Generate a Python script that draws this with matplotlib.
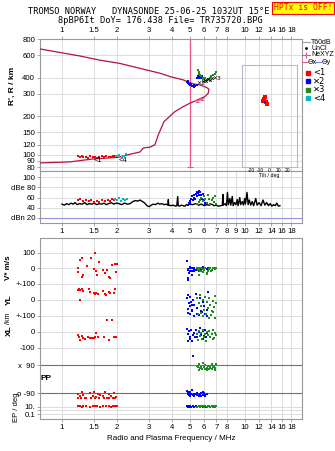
import numpy as np
import matplotlib
matplotlib.use("Agg")
import matplotlib.pyplot as plt
from matplotlib.lines import Line2D

plt.rcParams['font.family'] = ['Liberation Sans', 'DejaVu Sans']

# ---------------- data ----------------
freq_ticks_top = [1, 1.5, 2, 3, 4, 5, 6, 7, 8, 10, 12, 14, 16, 18]
freq_ticks_mid = [1, 1.5, 2, 3, 4, 5, 6, 7, 8, 9, 10, 12, 14, 16, 18]
height_ticks = [80, 90, 100, 120, 150, 200, 300, 400, 600, 800]

prof_f = [0.758, 1.106, 1.478, 2.025, 2.306, 2.673, 2.786, 3.03, 3.228, 3.37, 3.62,
          4.155, 4.613, 5.019, 6.063, 6.32, 6.376, 6.194, 5.69, 5.232, 4.613, 3.90,
          3.44, 2.077, 1.594, 1.254, 0.758]
prof_h = [86.7, 88.3, 93.1, 95.8, 100.5, 105.5, 113.3, 115, 120.2, 144, 182,
          218, 238, 253, 285, 303, 325, 335, 351, 358, 384, 408,
          433, 516, 549, 590, 669]

ne_f = [5.46, 5.82]
ne_h = [264, 272]

o1_f = [1.22, 1.25, 1.28, 1.31, 1.35, 1.39, 1.43, 1.47, 1.52, 1.56, 1.60, 1.65, 1.70, 1.75, 1.80, 1.85, 1.90, 1.95]
o1_h = [98, 97, 99, 96, 97, 95, 98, 96, 97, 95, 96, 98, 97, 99, 96, 97, 98, 99]
o4_f = [1.97, 2.01, 2.06, 2.12, 2.18, 2.25]
o4_h = [99, 98, 100, 97, 99, 101]
x2_f = [4.85, 4.88, 4.92, 4.96, 5.0, 5.05, 5.1, 5.15, 5.2, 5.25, 5.3, 5.38, 5.45, 5.5, 5.55, 5.62, 5.7, 5.78, 5.85, 5.92]
x2_h = [372, 380, 365, 360, 352, 348, 355, 342, 346, 340, 350, 345, 352, 400, 410, 395, 405, 398, 412, 392]
x3_f = [5.55, 5.6, 5.65, 5.72, 5.8, 5.88, 5.95, 6.02, 6.1, 6.2, 6.3, 6.42, 6.55, 6.7, 6.85, 6.95]
x3_h = [455, 445, 430, 420, 410, 400, 392, 388, 395, 385, 392, 400, 410, 418, 428, 440]
uncl_f = [5.95, 6.05, 6.15, 6.3, 6.45, 6.6]
uncl_h = [375, 382, 378, 390, 385, 395]

tilt_x = [-7, -5, -4, -3, -6]
tilt_y = [9, 11, 8, 7, 10]
tilt_bx = [-5]
tilt_by = [8]

amp_f = [1.00, 1.03, 1.06, 1.09, 1.12, 1.15, 1.18, 1.21, 1.25, 1.29, 1.33, 1.37, 1.41, 1.46, 1.50,
         1.55, 1.60, 1.65, 1.70, 1.75, 1.80, 1.86, 1.92, 1.98, 2.05, 2.12, 2.20, 2.28, 2.36, 2.44,
         2.52, 2.60, 2.68, 2.76, 2.84, 2.92, 3.00, 3.08, 3.16, 3.25, 3.34, 3.43, 3.52, 3.62, 3.72,
         3.80, 3.82, 3.84, 3.95, 4.05, 4.20, 4.25, 4.30, 4.33, 4.40, 4.50, 4.60, 4.70, 4.80, 4.90,
         5.00, 5.20, 5.40, 5.60, 5.80, 6.00, 6.20, 6.40, 6.60, 6.80, 7.00, 7.20, 7.40, 7.55, 7.60,
         7.65, 7.80, 7.95, 8.05, 8.15, 8.30, 8.40, 8.55, 8.65, 8.80, 8.95, 9.10, 9.20, 9.40, 9.50,
         9.70, 9.85, 10.0, 10.1, 10.3, 10.45, 10.6, 10.8, 11.0, 11.2, 11.5, 11.7, 12.0, 12.3, 12.6,
         12.9, 13.2, 13.5, 13.8, 14.1, 14.4, 14.7, 15.0, 15.3, 15.6]
amp_db = [47, 45, 48, 46, 49, 47, 50, 46, 48, 47, 50, 46, 48, 47, 49,
          46, 48, 47, 49, 46, 48, 50, 47, 49, 48, 46, 49, 47, 48, 52,
          54, 53, 55, 52, 49, 44, 42, 45, 47, 46, 49, 47, 48, 46, 47,
          45, 56, 45, 44, 45, 43, 44, 62, 44, 43, 45, 44, 43, 46, 45,
          47, 46, 48, 45, 47, 44, 46, 45, 47, 44, 45, 43, 44, 45, 66,
          45, 48, 44, 70, 46, 58, 45, 62, 44, 50, 46, 56, 44, 60, 46,
          52, 45, 58, 47, 70, 46, 55, 45, 52, 44, 58, 45, 50, 44, 55,
          45, 50, 44, 48, 43, 46, 44, 49, 43, 44]

db_o1_f = [1.22, 1.26, 1.31, 1.36, 1.40, 1.44, 1.49, 1.55, 1.60, 1.66, 1.72, 1.78, 1.83, 1.88, 1.93]
db_o1 = [55, 57, 54, 56, 53, 55, 52, 54, 51, 55, 53, 56, 54, 57, 55]
db_o4_f = [1.96, 2.0, 2.05, 2.10, 2.16, 2.22, 2.28]
db_o4 = [58, 56, 60, 54, 57, 55, 58]
db_x2_f = [4.90, 4.95, 5.00, 5.05, 5.10, 5.15, 5.2, 5.25, 5.3, 5.35, 5.4, 5.45, 5.5, 5.55, 5.6, 5.65,
           5.7, 5.75, 5.8, 5.85, 5.9, 6.0, 6.05, 6.1]
db_x2 = [46, 50, 54, 49, 58, 62, 55, 60, 64, 57, 66, 70, 62, 68, 72, 65, 70, 60, 64, 58, 66, 55, 50, 47]
db_x3_f = [5.5, 5.6, 5.7, 5.8, 5.9, 6.0, 6.1, 6.2, 6.3, 6.4, 6.5, 6.6, 6.7, 6.8, 6.9, 7.0]
db_x3 = [48, 52, 56, 60, 54, 62, 58, 50, 64, 57, 48, 55, 60, 52, 62, 47]

# lower panel: velocities (m/s), YL / XL (km), polarization (deg), EP (deg)
vs_o1_f = [1.22, 1.23, 1.25, 1.28, 1.29, 1.31, 1.375, 1.44, 1.49, 1.515, 1.53, 1.56, 1.60, 1.68, 1.72,
           1.76, 1.81, 1.83, 1.87, 1.95, 1.97, 2.0]
vs_o1 = [0, -21, 53, 64, -58, -43, 17, 64, -6, 100, -15, -43, 42, -11, -32, -11, -54, -64, 21, 28, -21, 28]
yl_o1_f = [1.22, 1.24, 1.26, 1.28, 1.30, 1.25, 1.40, 1.43, 1.50, 1.52, 1.54, 1.58, 1.68, 1.71, 1.74,
           1.80, 1.84, 1.92, 1.96]
yl_o1 = [62, 69, 62, 69, 58, 0, 69, 52, 42, 38, 42, 38, 58, 38, 31, 52, 42, 42, 67]
xl_o1_f = [1.22, 1.24, 1.26, 1.28, 1.31, 1.34, 1.38, 1.43, 1.46, 1.49, 1.52, 1.53, 1.58, 1.70, 1.77,
           1.82, 1.87, 1.92, 1.97]
xl_o1 = [-19, -34, -51, -24, -41, -46, -34, -41, -41, -41, -30, -9, -30, -30, 77, -51, 77, -30, -30]
pp_o1_f = [1.22, 1.25, 1.28, 1.31, 1.35, 1.42, 1.47, 1.50, 1.53, 1.57, 1.62, 1.68, 1.72, 1.77, 1.82,
           1.86, 1.92, 1.97, 1.23, 1.27, 1.33, 1.45, 1.52, 1.60, 1.70, 1.80, 1.90, 1.95]
pp_o1 = [-95, -110, -85, -100, -120, -90, -105, -80, -115, -95, -100, -110, -85, -120, -95, -105, -90,
         -115, -122, -122, -122, -122, -122, -122, -122, -122, -122, -122]
ep_o1_f = [1.22, 1.25, 1.28, 1.31, 1.36, 1.42, 1.47, 1.52, 1.56, 1.62, 1.68, 1.74, 1.80, 1.85, 1.90, 1.95, 2.0]
ep_o1 = [12, 15, 11, 14, 12, 11, 13, 15, 12, 11, 14, 12, 13, 11, 12, 14, 12]

vs_x2_f = [4.85, 4.88, 4.92, 4.95, 5.0, 5.05, 5.1, 5.15, 5.2, 5.25, 5.3, 5.4, 5.5, 5.6, 5.7, 5.8, 5.9,
           6.0, 6.1, 6.2, 6.3, 4.9, 5.0, 5.15, 5.3, 4.87]
vs_x2 = [48, -10, -5, -30, 0, 10, -15, 5, -20, -5, 0, -10, 5, -15, 0, -5, 10, -10, 0, -5, 0, -60, -20,
         -40, -15, -75]
yl_x2_f = [4.86, 4.9, 4.95, 5.0, 5.05, 5.1, 5.15, 5.2, 5.3, 5.4, 5.5, 5.6, 5.7, 5.8, 5.9, 6.0, 6.1,
           6.2, 6.3, 4.88, 5.0, 5.12, 5.25, 5.45, 5.65, 5.85, 6.05, 6.25, 4.92, 5.18]
yl_x2 = [10, 30, -20, 20, -40, -10, -60, 0, -30, 40, -50, -20, 10, -70, -10, -40, 20, -60, 50,
         -80, -90, -70, -100, -85, -95, -75, -90, -100, -55, -30]
xl_x2_f = [4.86, 4.9, 4.95, 5.0, 5.05, 5.1, 5.2, 5.3, 5.4, 5.5, 5.6, 5.7, 5.8, 5.9, 6.0, 6.1, 6.2,
           4.88, 5.02, 5.15, 5.35, 5.55, 5.75, 5.95, 6.15]
xl_x2 = [20, -10, 5, -30, -45, 10, -20, -5, 15, -35, 0, 25, -15, 5, -25, 10, -5,
         -55, -40, -60, -30, -50, -20, -45, -35]
pp_x2_f = [4.86, 4.9, 4.95, 5.0, 5.05, 5.1, 5.2, 5.3, 5.4, 5.5, 5.6, 5.7, 5.8, 5.9, 6.0, 6.1, 6.2,
           4.88, 5.0, 5.15, 5.3, 5.45, 5.6, 5.75, 5.9, 6.05, 5.22]
pp_x2 = [-75, -95, -100, -90, -105, -95, -100, -110, -95, -100, -105, -95, -110, -100, -90, -105, -95,
         -80, -85, -70, -95, -88, -100, -90, -85, -100, 150]
ep_x2_f = [4.86, 4.9, 4.95, 5.0, 5.05, 5.1, 5.2, 5.3, 5.4, 5.5, 5.6, 5.7, 5.8, 5.9, 6.0, 6.1]
ep_x2 = [14, 11, 13, 10, 12, 11, 14, 10, 12, 11, 13, 10, 12, 11, 14, 10]

vs_x3_f = [5.5, 5.55, 5.6, 5.65, 5.7, 5.75, 5.8, 5.9, 6.0, 6.1, 6.2, 6.3, 6.4, 6.5, 6.6, 6.7, 6.8,
           6.9, 6.95, 5.62, 5.95, 6.25, 6.55, 6.85]
vs_x3 = [0, -10, 5, -5, -15, 0, -20, -5, -10, 0, -30, -15, -5, 5, -10, 0, 5, -5, 0, -40, -25, -35, -20, 0]
yl_x3_f = [5.5, 5.6, 5.7, 5.8, 5.9, 6.0, 6.1, 6.2, 6.3, 6.4, 6.5, 6.6, 6.7, 6.8, 6.9, 6.95,
           5.55, 5.75, 5.95, 6.15, 6.35, 6.55, 6.75, 6.9]
yl_x3 = [10, -20, 30, -40, 0, -60, 20, -10, -50, 15, -30, -70, -5, -45, 25, -20,
         -90, -80, -100, -85, -110, -95, -75, -115]
xl_x3_f = [5.5, 5.6, 5.7, 5.8, 5.9, 6.0, 6.1, 6.2, 6.3, 6.4, 6.5, 6.6, 6.7, 6.8, 6.9, 6.95,
           5.55, 5.85, 6.15, 6.45, 6.75]
xl_x3 = [-10, 5, -25, -5, 10, -35, -15, 0, -20, 5, -30, -10, 15, -40, -5, -20,
         -50, -45, -55, -30, -45]
pp_x3_f = [5.5, 5.55, 5.6, 5.7, 5.8, 5.9, 6.0, 6.1, 6.2, 6.3, 6.4, 6.5, 6.6, 6.7, 6.8, 6.9, 6.95,
           5.65, 5.85, 6.05, 6.25, 6.45, 6.65, 6.85]
pp_x3 = [85, 75, 95, 70, 80, 100, 75, 90, 70, 85, 65, 80, 95, 75, 85, 70, 95,
         60, 65, 62, 60, 68, 62, 60]
ep_x3_f = [5.5, 5.6, 5.7, 5.8, 5.9, 6.0, 6.1, 6.2, 6.3, 6.4, 6.5, 6.6, 6.7, 6.8, 6.9, 7.0]
ep_x3 = [11, 13, 10, 14, 12, 11, 13, 10, 12, 14, 11, 13, 10, 12, 11, 13]

# ---------------- styles ----------------
W, H = 335, 451
RED, BLUE, GREEN, CYAN = '#ff0000', '#0000ff', '#1e8c1e', '#00bcbc'
PROF = '#b4143c'
PINK = '#e8558c'
GRID = '#dcdcdc'
SPINE = '#999999'
FS = 5.6


def rect(x0, y0, x1, y1):
    return [x0 / W, 1 - y1 / H, (x1 - x0) / W, (y1 - y0) / H]


def fx(x):
    return x / W


def fy(y):
    return 1 - y / H


fig = plt.figure(figsize=(W / 100, H / 100), dpi=100)
fig.patch.set_facecolor('white')

XLIM = (0.758, 20.6)


def style_freq_axis(ax):
    ax.set_xscale('log')
    ax.set_xlim(*XLIM)
    ax.xaxis.set_minor_locator(matplotlib.ticker.NullLocator())
    for s in ax.spines.values():
        s.set_color(SPINE)
        s.set_linewidth(0.8)
    ax.tick_params(axis='both', labelsize=FS, length=2, width=0.6, color=SPINE, pad=1.5)


def fmt(v):
    return ('%g' % v)

# ---------- top panel ----------
ax1 = fig.add_axes(rect(40, 39, 302, 171))
style_freq_axis(ax1)
ax1.set_yscale('log')
ax1.set_ylim(75, 800)
ax1.yaxis.set_minor_locator(matplotlib.ticker.NullLocator())
ax1.set_yticks(height_ticks)
ax1.set_yticklabels([str(t) for t in height_ticks])
ax1.set_xticks(freq_ticks_top)
ax1.set_xticklabels([fmt(t) for t in freq_ticks_top])
ax1.xaxis.set_ticks_position('top')
ax1.xaxis.set_label_position('top')
for t in freq_ticks_top:
    ax1.axvline(t, color=GRID, lw=0.7, zorder=0)
for t in height_ticks:
    ax1.axhline(t, color=GRID, lw=0.7, zorder=0)

ax1.plot(prof_f, prof_h, color=PROF, lw=0.9, zorder=3)
ax1.errorbar([5.0], [283], yerr=[[203], [517]], color=PINK, lw=0.9, capsize=2, capthick=0.8, zorder=2)
ax1.errorbar(ne_f, ne_h, yerr=6, color=PINK, lw=0.7, capsize=1.5, capthick=0.7, fmt='none', zorder=4)
ax1.plot(ne_f, ne_h, color=PINK, lw=0.7, zorder=4)
ax1.scatter(o1_f, o1_h, s=3, marker='s', color=RED, lw=0, zorder=5)
ax1.scatter(o4_f, o4_h, s=3, marker='s', color=CYAN, lw=0, zorder=5)
ax1.scatter(x2_f, x2_h, s=3, marker='s', color=BLUE, lw=0, zorder=5)
ax1.scatter(x3_f, x3_h, s=3, marker='s', color=GREEN, lw=0, zorder=5)
ax1.scatter(uncl_f, uncl_h, s=3, marker='x', color='black', lw=0.6, zorder=6)
ax1.text(1.58, 91, '<1', fontsize=5.5, ha='center', va='center', zorder=7)
ax1.text(2.16, 91, '<4', fontsize=5.5, ha='center', va='center', zorder=7)
ax1.text(5.75, 362, '✕2', fontsize=4.3, ha='center', va='center', zorder=7,
         family=['DejaVu Sans'])
ax1.text(7.0, 392, '✕3', fontsize=4.3, ha='center', va='center', zorder=7,
         family=['DejaVu Sans'])

fig.text(fx(12), fy(86), "R', R / km", rotation=90, fontsize=6, ha='center', va='center', weight='bold')

# ---------- dB panel ----------
ax2 = fig.add_axes(rect(40, 171, 302, 223))
style_freq_axis(ax2)
ax2.set_ylim(10, 112)
ax2.set_yticks([20, 40, 60, 80, 100])
ax2.set_yticklabels(['dBn 20', '40', '60', 'dBe 80', '100'])
ax2.set_xticks(freq_ticks_mid)
ax2.set_xticklabels([fmt(t) for t in freq_ticks_mid])
for t in freq_ticks_mid:
    ax2.axvline(t, color=GRID, lw=0.7, zorder=0)
for t in [40, 60, 80, 100]:
    ax2.axhline(t, color=GRID, lw=0.7, zorder=0)
ax2.axhline(20, color='#9090e0', lw=0.8, zorder=0)
ax2.plot(amp_f, amp_db, color='black', lw=1.0, zorder=3)
ax2.scatter(db_o1_f, db_o1, s=3, marker='s', color=RED, lw=0, zorder=4)
ax2.scatter(db_o4_f, db_o4, s=3, marker='s', color=CYAN, lw=0, zorder=4)
ax2.scatter(db_x2_f, db_x2, s=4, marker='s', color=BLUE, lw=0, zorder=4)
ax2.scatter(db_x3_f, db_x3, s=4, marker='s', color=GREEN, lw=0, zorder=4)

# inset tilt (drawn above the dB panel so its labels stay visible)
axi = fig.add_axes(rect(242, 65, 297, 167))
axi.set_zorder(10)
axi.patch.set_alpha(0)
axi.set_xlim(-30, 30)
axi.set_ylim(-30, 30)
axi.set_xticks([-20, -10, 0, 10, 20])
axi.set_xticklabels(['-20', '-10', '0', '10', '20'])
axi.set_yticks([])
axi.tick_params(axis='x', labelsize=3.6, length=0, pad=0.8)
for s in axi.spines.values():
    s.set_color('#b8b8c8')
    s.set_linewidth(0.8)
axi.set_xlabel('Tilt / deg', fontsize=3.8, labelpad=0)
axi.scatter(tilt_x, tilt_y, s=5, marker='s', color=RED, lw=0, zorder=5)
axi.scatter(tilt_bx, tilt_by, s=4, marker='s', color=BLUE, lw=0, zorder=6)

# ---------- lower panel ----------
ax3 = fig.add_axes(rect(40, 238, 302, 419))
style_freq_axis(ax3)
ax3.set_ylim(0, 181)


def vs_y(v):
    return 150.7 + np.asarray(v) * 0.156


def yl_y(v):
    return 119 + np.asarray(v) * 0.16


def xl_y(v):
    return 87 + np.asarray(v) * 0.156


def pp_y(v):
    return 39.85 + np.asarray(v) * 0.157


def ep_y(v):
    return 8.6 + 3.65 * np.log10(np.asarray(v, dtype=float))


ytick_pos = [vs_y(100), vs_y(0), vs_y(-100), yl_y(0), yl_y(-100), xl_y(0), xl_y(-100),
             pp_y(90), pp_y(-90), ep_y(10), ep_y(1), ep_y(0.1)]
ytick_lab = ['100', '0', '+-100', '0', '+-100', '0', '-100', 'x  90', 'o -90', '10.', '', '0.1']
ax3.set_yticks([float(p) for p in ytick_pos])
ax3.set_yticklabels(ytick_lab)
ax3.set_xticks(freq_ticks_top)
ax3.set_xticklabels([fmt(t) for t in freq_ticks_top])
for t in freq_ticks_top:
    ax3.axvline(t, color=GRID, lw=0.7, zorder=0)
for p in ytick_pos:
    ax3.axhline(float(p), color=GRID, lw=0.7, zorder=0)
ax3.axhline(float(pp_y(90)), color='#707070', lw=0.8, zorder=1)
ax3.axhline(float(pp_y(-90)), color='#707070', lw=0.8, zorder=1)
ax3.set_xlabel('Radio and Plasma Frequency / MHz', fontsize=5.8, labelpad=3)

S = 3.5
for f_, v_, fn, c in [
    (vs_o1_f, vs_o1, vs_y, RED), (yl_o1_f, yl_o1, yl_y, RED), (xl_o1_f, xl_o1, xl_y, RED),
    (pp_o1_f, pp_o1, pp_y, RED), (ep_o1_f, ep_o1, ep_y, RED),
    (vs_x2_f, vs_x2, vs_y, BLUE), (yl_x2_f, yl_x2, yl_y, BLUE), (xl_x2_f, xl_x2, xl_y, BLUE),
    (pp_x2_f, pp_x2, pp_y, BLUE), (ep_x2_f, ep_x2, ep_y, BLUE),
    (vs_x3_f, vs_x3, vs_y, GREEN), (yl_x3_f, yl_x3, yl_y, GREEN), (xl_x3_f, xl_x3, xl_y, GREEN),
    (pp_x3_f, pp_x3, pp_y, GREEN), (ep_x3_f, ep_x3, ep_y, GREEN)]:
    ax3.scatter(f_, fn(v_), s=S, marker='s', color=c, lw=0, zorder=4)

fig.text(fx(9), fy(268), 'V* m/s', rotation=90, fontsize=5.8, ha='center', va='center', weight='bold')
fig.text(fx(9), fy(300), 'YL', rotation=90, fontsize=6, ha='center', va='center', weight='bold')
fig.text(fx(9), fy(318), '/km', rotation=90, fontsize=5, ha='center', va='center')
fig.text(fx(9), fy(331), 'XL', rotation=90, fontsize=6, ha='center', va='center', weight='bold')
fig.text(fx(46), fy(379), 'PP', fontsize=6, ha='center', va='center', weight='bold')
fig.text(fx(16), fy(407), 'EP / deg', rotation=90, fontsize=5.5, ha='center', va='center')

# ---------- titles ----------
fig.text(fx(149), fy(12), 'TROMSO NORWAY   DYNASONDE 25-06-25 1032UT 15°E',
         fontsize=6.2, family=['DejaVu Sans Mono'], ha='center', va='center')
fig.text(fx(160), fy(20.5), '8pBP6It DoY= 176.438 File= TR735720.BPG',
         fontsize=6.2, family=['DejaVu Sans Mono'], ha='center', va='center')
fig.text(fx(303), fy(8), 'HPTx is OFF!', fontsize=5.8, family=['DejaVu Sans Mono'],
         color='#ff0000', ha='center', va='center',
         bbox=dict(boxstyle='square,pad=0.2', facecolor='#ffff00', edgecolor='#ff0000', lw=0.8))

# ---------- legend ----------
LF = 5.0
def leg_line(x0, x1, y, c, lw=0.8):
    fig.add_artist(Line2D([fx(x0), fx(x1)], [fy(y), fy(y)], color=c, lw=lw, transform=fig.transFigure))

leg_line(302, 310, 42.3, '#a0a0a0')
fig.text(fx(311), fy(42.3), 'T60dB', fontsize=LF, va='center')
fig.add_artist(Line2D([fx(306)], [fy(48.3)], marker='.', ms=2, color='black', lw=0, transform=fig.transFigure))
fig.text(fx(311), fy(48.3), 'UnCl', fontsize=LF, va='center')
leg_line(302, 310, 55, PINK)
fig.add_artist(Line2D([fx(306)], [fy(55)], marker='+', ms=4, mew=0.8, color=PINK, lw=0, transform=fig.transFigure))
fig.text(fx(311), fy(55), 'NeXYZ', fontsize=LF, va='center')
leg_line(302, 307, 61.7, PINK)
fig.text(fx(307.5), fy(61.7), 'Θx', fontsize=LF, va='center', family=['DejaVu Sans'])
leg_line(316, 321, 61.7, '#8080e0')
fig.text(fx(321.5), fy(61.7), 'Θy', fontsize=LF, va='center', family=['DejaVu Sans'])
for y, c, lab in [(72.7, RED, '<1'), (81, BLUE, '✕2'), (90, GREEN, '✕3'), (98.3, CYAN, '<4')]:
    fig.add_artist(Line2D([fx(307.5)], [fy(y)], marker='s', ms=2.6, color=c, lw=0, transform=fig.transFigure))
    fig.text(fx(313), fy(y), lab, fontsize=6, va='center', family=['DejaVu Sans'])

fig.savefig('out.png', dpi=100)
